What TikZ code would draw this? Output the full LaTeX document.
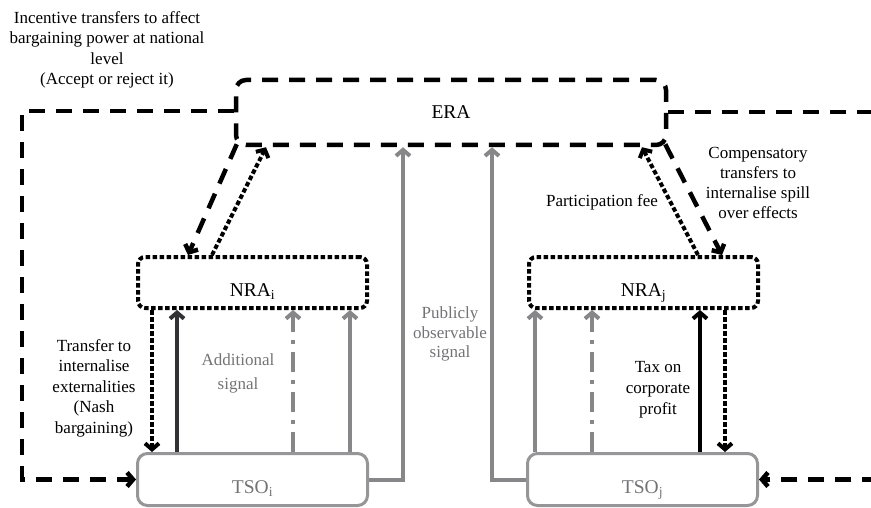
\documentclass[tikz,border=0pt]{standalone}
\usepackage{fontspec}
\setmainfont{Liberation Serif}
\usetikzlibrary{arrows.meta,calc}

\definecolor{sigline}{RGB}{135,135,138}
\definecolor{sigtext}{RGB}{115,115,118}
\definecolor{tsoline}{RGB}{150,150,152}
\definecolor{darkline}{RGB}{50,50,52}

\begin{document}
\begin{tikzpicture}[x=1pt,y=-1pt,
  tip/.style={-{Straight Barb[length=6pt,width=14pt]}},
  heavydash/.style={line width=4.5pt,dash pattern=on 16pt off 11pt},
  heavydot/.style={line width=4pt,dash pattern=on 4.5pt off 2.5pt},
  dashdot/.style={line width=4pt,dash pattern=on 20pt off 8pt on 4pt off 8pt},
  boxfont/.style={font=\fontsize{19.5}{22}\selectfont},
  lowtext/.style={text height=27pt,text depth=0pt},
  erabox/.style={draw,heavydash,rounded corners=10pt,minimum width=430pt,minimum height=65pt,boxfont},
  nrabox/.style={draw,heavydot,rounded corners=7pt,minimum width=229pt,minimum height=51pt,boxfont,lowtext},
  tsobox/.style={draw=tsoline,line width=3pt,rounded corners=10pt,minimum width=230pt,minimum height=52pt,text=sigtext,boxfont,lowtext},
  lbl/.style={align=center,inner sep=0pt,anchor=north,font=\fontsize{17}{20.5}\selectfont},
  sigarrow/.style={tip,draw=sigline,line width=4pt},
]
\useasboundingbox (0,0) rectangle (871,508);
\clip (0,0) rectangle (871,508);

% main boxes
\node[erabox] (era) at (451,112.5) {ERA};
\node[nrabox] (nrai) at (252.5,282.5) {NRA\textsubscript{i}};
\node[nrabox] (nraj) at (643.5,282.5) {NRA\textsubscript{j}};
\node[tsobox] (tsoi) at (252.5,479.5) {TSO\textsubscript{i}};
\node[tsobox] (tsoj) at (642.5,479.5) {TSO\textsubscript{j}};

% incentive transfers from ERA back to the operators
\coordinate (farright) at (900,0);
\draw[heavydash,tip] (era.west |- 0,111) -| (22,479.5) -- (tsoi.west);
\draw[heavydash,tip] (era.east |- 0,112) -- (farright |- 0,112) -- (farright |- tsoj.east) -- (tsoj.east);

% ERA <-> NRA exchanges
\draw[heavydash,tip] ([shift={(3,-3)}]era.south west) -- (nrai.north -| 188,0);
\draw[heavydot,tip] (nrai.north -| 212,0) -- (era.south -| 266,0);
\draw[heavydot,tip] (nraj.north -| 698,0) -- (era.south -| 642,0);
\draw[heavydash,tip] ([shift={(-3,-3)}]era.south east) -- (nraj.north -| 722,0);

% country i
\draw[heavydot,tip] (nrai.south -| 152,0) -- (tsoi.north -| 152,0);
\draw[tip,draw=darkline,line width=4pt] (tsoi.north -| 177,0) -- (nrai.south -| 177,0);
\draw[sigarrow,dashdot] (tsoi.north -| 293,0) -- (nrai.south -| 293,0);
\draw[sigarrow] (tsoi.north -| 350,0) -- (nrai.south -| 350,0);
\draw[sigarrow] (tsoi.east) -| (era.south -| 403,0);

% country j
\draw[sigarrow] (tsoj.west) -| (era.south -| 492,0);
\draw[sigarrow] (tsoj.north -| 535,0) -- (nraj.south -| 535,0);
\draw[sigarrow,dashdot] (tsoj.north -| 592,0) -- (nraj.south -| 592,0);
\draw[tip,line width=4pt] (tsoj.north -| 700,0) -- (nraj.south -| 700,0);
\draw[heavydot,tip] (nraj.south -| 725,0) -- (tsoj.north -| 725,0);

% labels
\node[lbl] (incent) at (107,11) {Incentive transfers to affect\\bargaining power at national\\level\\(Accept or reject it)};
\node[lbl,font=\fontsize{17}{20}\selectfont] (comp) at (758,147) {Compensatory\\transfers to\\internalise spill\\over effects};
\node[lbl] (fee) at (602,194) {Participation fee};
\node[lbl] (xfer) at (94,339) {Transfer to\\internalise\\externalities\\(Nash\\bargaining)};
\node[lbl,text=sigtext,font=\fontsize{17}{24}\selectfont] (addsig) at (238,354) {Additional\\signal};
\node[lbl,text=sigtext,font=\fontsize{17}{19.5}\selectfont] (pubsig) at (450,307) {Publicly\\observable\\signal};
\node[lbl,font=\fontsize{17}{21}\selectfont] (tax) at (658,361) {Tax on\\corporate\\profit};
\end{tikzpicture}
\end{document}
